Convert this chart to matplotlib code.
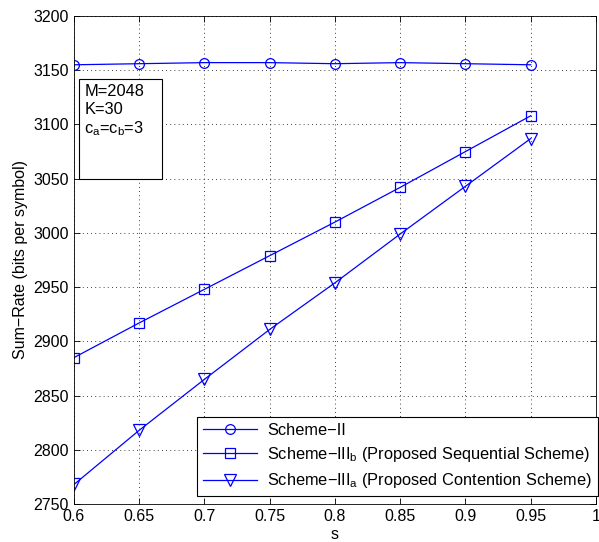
import matplotlib
matplotlib.use("Agg")
import matplotlib.pyplot as plt
from matplotlib.patches import Rectangle

plt.rcParams['font.family'] = ['Liberation Sans', 'DejaVu Sans']
plt.rcParams['mathtext.fontset'] = 'custom'
plt.rcParams['mathtext.rm'] = 'Liberation Sans'
plt.rcParams['mathtext.it'] = 'Liberation Sans'

s = [0.6, 0.65, 0.7, 0.75, 0.8, 0.85, 0.9, 0.95]
scheme_ii = [3155, 3156, 3157, 3157, 3156, 3157, 3156, 3155]
scheme_iii_b = [2885, 2917, 2948, 2979, 3010, 3042, 3075, 3108]
scheme_iii_a = [2768, 2818, 2865, 2911, 2954, 2999, 3043, 3087]

xticks = [0.6, 0.65, 0.7, 0.75, 0.8, 0.85, 0.9, 0.95, 1]
xticklabels = ['0.6', '0.65', '0.7', '0.75', '0.8', '0.85', '0.9', '0.95', '1']
yticks = [2750, 2800, 2850, 2900, 2950, 3000, 3050, 3100, 3150, 3200]

fig = plt.figure(figsize=(5.99, 5.42), dpi=100)
ax = fig.add_axes([0.1235, 0.0701, 0.8715, 0.9004])

blue = (0, 0, 1)
kw = dict(color=blue, lw=0.9, markerfacecolor='none',
          markeredgecolor=blue, markeredgewidth=0.9)
ax.plot(s, scheme_ii, marker='o', markersize=7, label='Scheme\u2212II', **kw)
ax.plot(s, scheme_iii_b, marker='s', markersize=6.5,
        label='Scheme\u2212III$_\\mathrm{b}$ (Proposed Sequential Scheme)', **kw)
ax.plot(s, scheme_iii_a, marker='v', markersize=8,
        label='Scheme\u2212III$_\\mathrm{a}$ (Proposed Contention Scheme)', **kw)

ax.set_xlim(0.6, 1)
ax.set_ylim(2750, 3200)
ax.set_xticks(xticks)
ax.set_xticklabels(xticklabels)
ax.set_yticks(yticks)
ax.tick_params(direction='in', labelsize=11.5, length=4, width=0.6,
               top=True, right=True)
ax.grid(True, color='black', linestyle=(0, (1, 4)), linewidth=0.6)
for sp in ax.spines.values():
    sp.set_linewidth(0.6)

ax.set_xlabel('s', fontsize=11.5, labelpad=2)
ax.set_ylabel('Sum\u2212Rate (bits per symbol)', fontsize=11.5, labelpad=4)

# Parameter box
ax.add_patch(Rectangle((0.6040, 3050), 0.0636, 92, transform=ax.transData,
                       facecolor='white', edgecolor='black', lw=0.8, zorder=3))
ax.text(0.6080, 3137, 'M=2048\nK=30\nc$_\\mathrm{a}$=c$_\\mathrm{b}$=3',
        fontsize=11.8, va='top', ha='left', zorder=4, linespacing=1.2)

leg = ax.legend(loc='lower right', bbox_to_anchor=(1.003, 0.016),
                fontsize=11.8, frameon=True, fancybox=False,
                edgecolor='black', framealpha=1, borderaxespad=0,
                handlelength=3.3, labelspacing=0.45, borderpad=0.35,
                handletextpad=0.6)
leg.get_frame().set_linewidth(0.8)

fig.savefig('out.png', dpi=100)
